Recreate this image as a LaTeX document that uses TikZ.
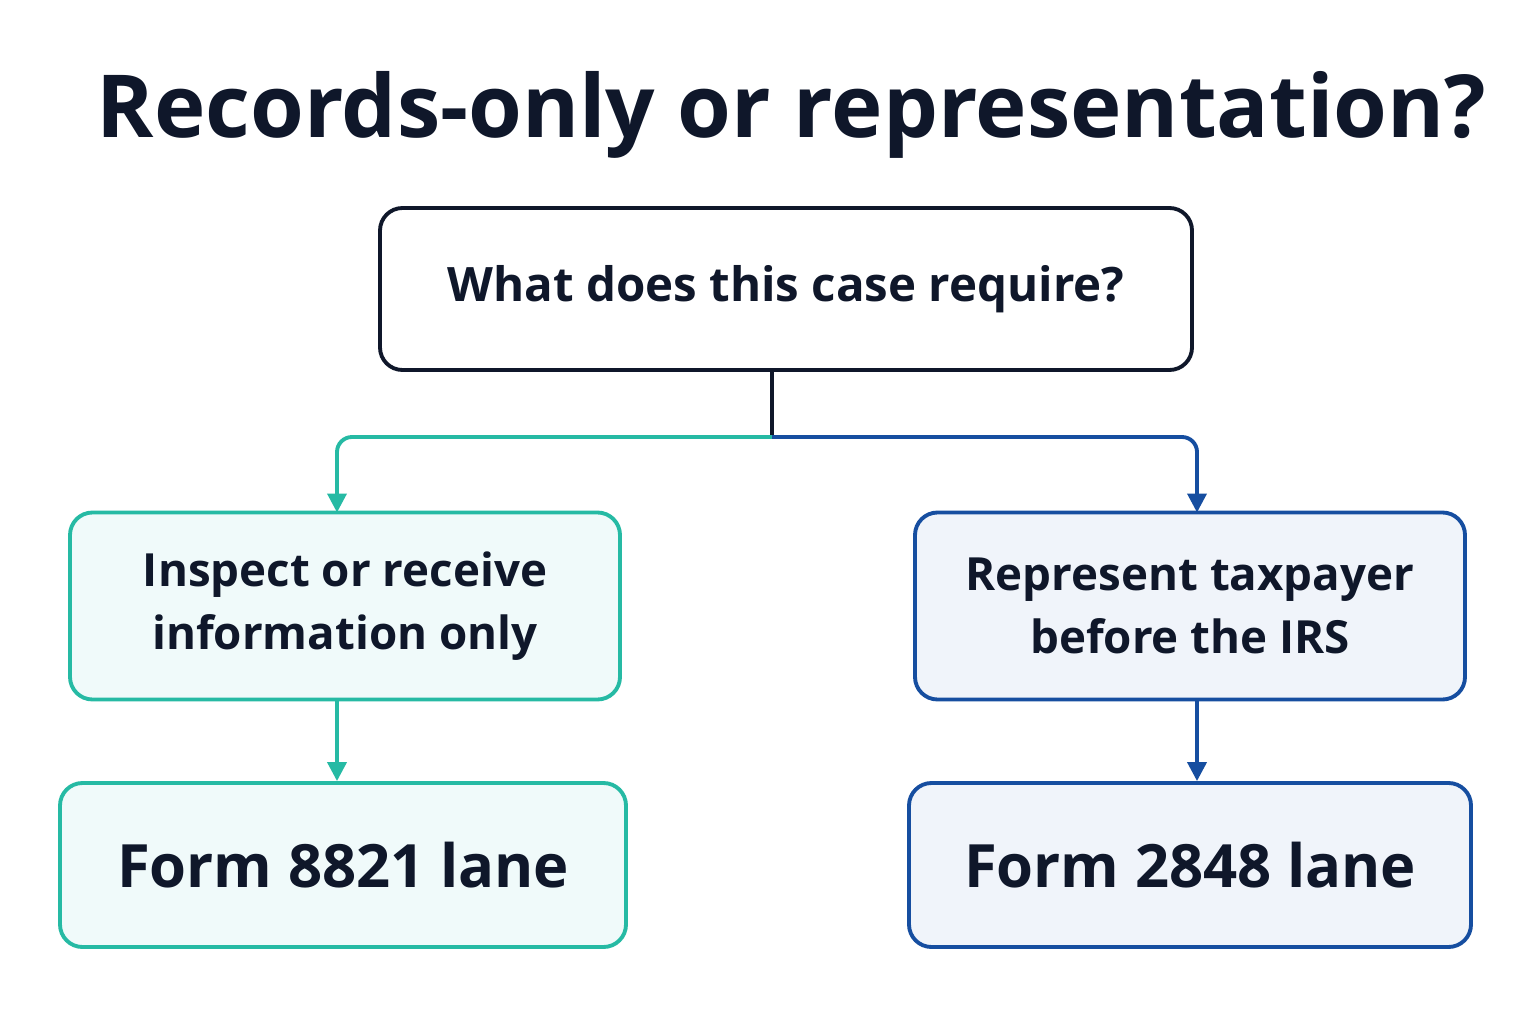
\documentclass[tikz,border=0pt]{standalone}
\usepackage{fontspec}
\setmainfont{Open Sans}[BoldFont={* Bold}]
\usetikzlibrary{arrows.meta, positioning}
\definecolor{ink}{RGB}{15,23,42}
\definecolor{teal}{RGB}{38,186,164}
\definecolor{navy}{RGB}{22,78,160}
\definecolor{tealfill}{RGB}{240,250,250}
\definecolor{navyfill}{RGB}{240,244,250}
\tikzset{
    box/.style={rectangle, rounded corners=0.45cm, text centered, draw, line width=2.2pt, align=center},
    flow/.style={-{Triangle[length=0.38cm,width=0.38cm]}, line width=2.2pt, rounded corners=0.3cm}
}
\begin{document}
\begin{tikzpicture}
    \useasboundingbox[fill=white] (0,0) rectangle (30.72,20.48);
    % Title
    \node[text=ink, font=\fontsize{49.5}{56}\selectfont\bfseries] (title) at (15.83,18.18) {Records-only or representation?};
    % Question
    \node[box, draw=ink, fill=white, minimum width=16.24cm, minimum height=3.24cm,
          font=\fontsize{27}{32}\selectfont\bfseries, text=ink] (question) at (15.72,14.7) {What does this case require?};
    % Middle row
    \node[box, draw=teal, fill=tealfill, minimum width=11cm, minimum height=3.74cm,
          font=\fontsize{26}{36}\selectfont\bfseries, text=ink] (inspect) at (6.9,8.36) {Inspect or receive\\information only};
    \node[box, draw=navy, fill=navyfill, minimum width=11cm, minimum height=3.74cm,
          font=\fontsize{26}{36}\selectfont\bfseries, text=ink] (represent) at (23.8,8.36) {Represent taxpayer\\before the IRS};
    % Lanes
    \node[box, draw=teal, fill=tealfill, minimum width=11.32cm, minimum height=3.28cm,
          font=\fontsize{34}{42}\selectfont\bfseries, text=ink] (lane8821) at (6.86,3.18) {Form 8821 lane};
    \node[box, draw=navy, fill=navyfill, minimum width=11.24cm, minimum height=3.28cm,
          font=\fontsize{34}{42}\selectfont\bfseries, text=ink] (lane2848) at (23.8,3.18) {Form 2848 lane};
    % Connections
    \coordinate (split) at (15.44,11.74);
    \draw[ink, line width=2.2pt] (question.south -| split) -- (split);
    \draw[flow, teal] (split) -| (6.74,10.23);
    \draw[flow, navy] (split) -| (23.94,10.23);
    \draw[flow, teal] (inspect.south -| 6.74,0) -- (lane8821.north -| 6.74,0);
    \draw[flow, navy] (represent.south -| 23.94,0) -- (lane2848.north -| 23.94,0);
\end{tikzpicture}
\end{document}
